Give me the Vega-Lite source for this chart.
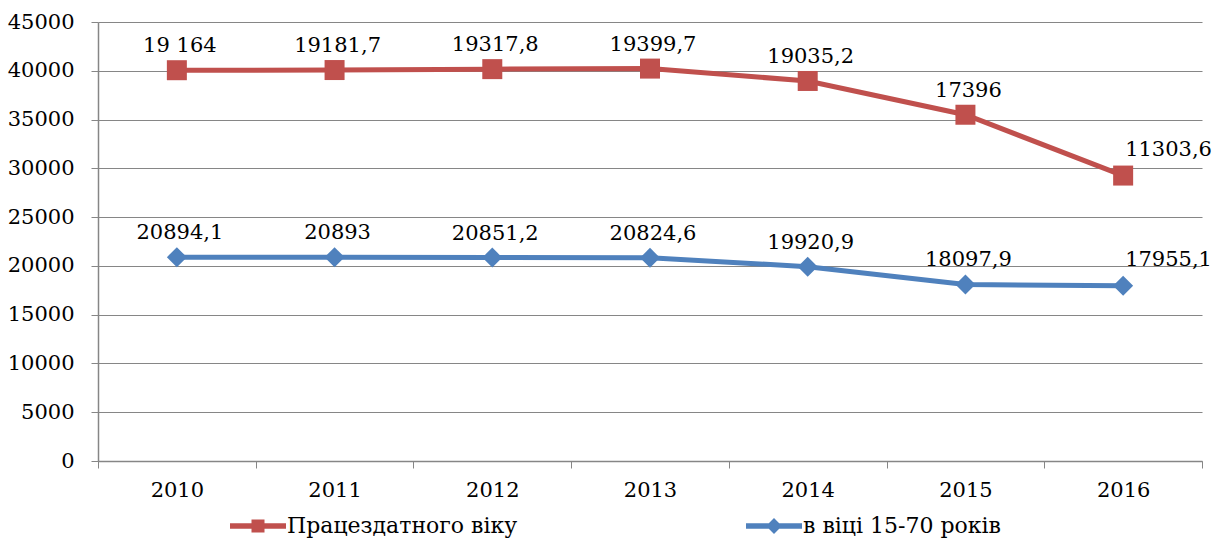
{
  "$schema": "https://vega.github.io/schema/vega-lite/v6.json",
  "autosize": "none",
  "width": 1104,
  "height": 439,
  "padding": {"left": 98, "top": 22, "right": 18, "bottom": 83},
  "background": "white",
  "config": {
    "font": "DejaVu Serif",
    "view": {"stroke": null},
    "text": {"font": "DejaVu Serif"},
    "axis": {"labelFont": "DejaVu Serif", "labelFontSize": 21, "labelColor": "black", "domainColor": "#868686", "tickColor": "#868686", "gridColor": "#868686", "title": null},
    "legend": {"labelFont": "DejaVu Serif"}
  },
  "data": {"values": [
    {"year": "2010", "series": "в віці 15-70 років", "ord": 1, "value": 20894.1, "label": "20894,1"},
    {"year": "2011", "series": "в віці 15-70 років", "ord": 1, "value": 20893, "label": "20893"},
    {"year": "2012", "series": "в віці 15-70 років", "ord": 1, "value": 20851.2, "label": "20851,2"},
    {"year": "2013", "series": "в віці 15-70 років", "ord": 1, "value": 20824.6, "label": "20824,6"},
    {"year": "2014", "series": "в віці 15-70 років", "ord": 1, "value": 19920.9, "label": "19920,9"},
    {"year": "2015", "series": "в віці 15-70 років", "ord": 1, "value": 18097.9, "label": "18097,9"},
    {"year": "2016", "series": "в віці 15-70 років", "ord": 1, "value": 17955.1, "label": "17955,1"},
    {"year": "2010", "series": "Працездатного віку", "ord": 2, "value": 19164, "label": "19 164"},
    {"year": "2011", "series": "Працездатного віку", "ord": 2, "value": 19181.7, "label": "19181,7"},
    {"year": "2012", "series": "Працездатного віку", "ord": 2, "value": 19317.8, "label": "19317,8"},
    {"year": "2013", "series": "Працездатного віку", "ord": 2, "value": 19399.7, "label": "19399,7"},
    {"year": "2014", "series": "Працездатного віку", "ord": 2, "value": 19035.2, "label": "19035,2"},
    {"year": "2015", "series": "Працездатного віку", "ord": 2, "value": 17396, "label": "17396"},
    {"year": "2016", "series": "Працездатного віку", "ord": 2, "value": 11303.6, "label": "11303,6"}
  ]},
  "transform": [
    {"stack": "value", "groupby": ["year"], "sort": [{"field": "ord", "order": "ascending"}], "as": ["v0", "v1"]}
  ],
  "encoding": {
    "x": {"field": "year", "type": "ordinal", "bandPosition": 0.5,
      "scale": {"type": "band", "paddingInner": 0, "paddingOuter": 0},
      "axis": {"labelAngle": 0, "tickBand": "extent", "tickSize": 7, "labelPadding": 11, "grid": false, "domainWidth": 1.5}},
    "y": {"field": "v1", "type": "quantitative",
      "scale": {"domain": [0, 45000], "nice": false},
      "axis": {"values": [0,5000,10000,15000,20000,25000,30000,35000,40000,45000], "format": "d", "tickSize": 7, "labelPadding": 17, "grid": true, "gridWidth": 1.2, "domainWidth": 1.5}}
  },
  "layer": [
    {
      "mark": {"type": "line", "strokeWidth": 5},
      "encoding": {
        "color": {"field": "series", "type": "nominal",
          "scale": {"domain": ["Працездатного віку", "в віці 15-70 років"], "range": ["#C0504D", "#4F81BD"]},
          "legend": {"orient": "none", "legendX": 149, "legendY": 493, "direction": "horizontal", "title": null, "labelFont": "DejaVu Serif", "labelFontSize": 22, "labelColor": "black", "labelOffset": 18, "columnPadding": 228, "symbolSize": 400, "labelLimit": 400,
            "encode": {"symbols": {"update": {
              "shape": {"signal": "datum.value === 'Працездатного віку' ? 'M-2.8,-0.28H-0.65V-0.65H0.65V-0.28H2.8V0.28H0.65V0.65H-0.65V0.28H-2.8Z' : 'M-2.8,-0.28H-0.52L0,-0.8L0.52,-0.28H2.8V0.28H0.52L0,0.8L-0.52,0.28H-2.8Z'"},
              "fill": {"signal": "datum.value === 'Працездатного віку' ? '#C0504D' : '#4F81BD'"},
              "strokeWidth": {"value": 0},
              "opacity": {"value": 1},
              "size": {"value": 400}
            }}}}
        }
      }
    },
    {
      "transform": [{"filter": "datum.ord === 2"}],
      "mark": {"type": "point", "filled": true, "size": 400, "opacity": 1, "shape": "square", "color": "#C0504D"}
    },
    {
      "transform": [{"filter": "datum.ord === 1"}],
      "mark": {"type": "point", "filled": true, "size": 400, "opacity": 1, "shape": "diamond", "color": "#4F81BD"}
    },
    {
      "transform": [{"filter": "datum.year !== '2016'"}],
      "mark": {"type": "text", "fontSize": 21, "font": "DejaVu Serif", "color": "black", "dy": -18, "dx": 3, "baseline": "alphabetic"},
      "encoding": {"text": {"field": "label"}}
    },
    {
      "transform": [{"filter": "datum.year === '2016'"}],
      "mark": {"type": "text", "fontSize": 21, "font": "DejaVu Serif", "color": "black", "dy": -20, "dx": 2, "align": "left", "baseline": "alphabetic"},
      "encoding": {"text": {"field": "label"}}
    }
  ]
}
